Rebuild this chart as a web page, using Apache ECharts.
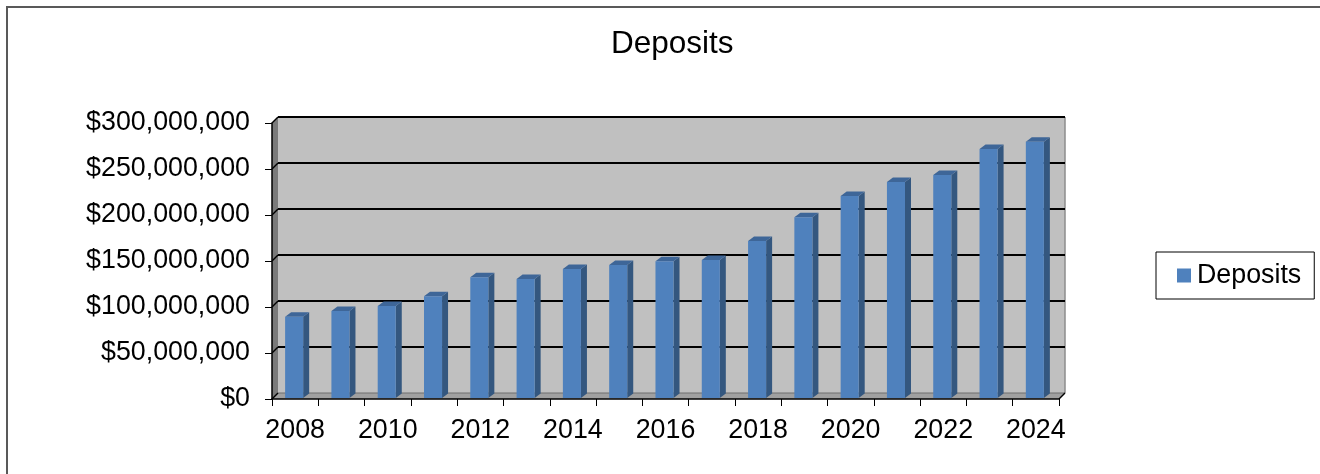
<!DOCTYPE html>
<html>
<head>
<meta charset="utf-8">
<script src="https://cdn.jsdelivr.net/npm/echarts@6/dist/echarts.min.js"></script>
<style>
html,body{margin:0;padding:0;background:#fff;}
#chart{width:1320px;height:474px;}
</style>
</head>
<body>
<div id="chart"></div>
<script>
var years = ['2008','2009','2010','2011','2012','2013','2014','2015','2016','2017','2018','2019','2020','2021','2022','2023','2024'];
var deposits = [89500000, 95700000, 101000000, 111600000, 132300000, 130400000, 141300000, 145600000, 149700000, 151000000, 171700000, 197500000, 220700000, 236000000, 243500000, 271700000, 279700000];
var yTicks = [0, 50000000, 100000000, 150000000, 200000000, 250000000, 300000000];
var seriesName = 'Deposits';
var titleText = 'Deposits';

var DX = 6, DY = 6;
var FONT = '"Liberation Sans", Arial, sans-serif';

function money(v) {
  return '$' + String(v).replace(/\B(?=(\d{3})+(?!\d))/g, ',');
}

function renderWalls(params, api) {
  var cs = params.coordSys;
  var x0 = cs.x, x1 = cs.x + cs.width;
  var yTop = api.coord([0, yTicks[yTicks.length - 1]])[1];
  var yBot = api.coord([0, 0])[1];
  var children = [];
  children.push({type:'polygon', shape:{points:[[x0+DX,yTop-DY],[x1+DX,yTop-DY],[x1+DX,yBot-DY],[x0+DX,yBot-DY]]},
    style:{fill:'#C0C0C0', stroke:null}});
  children.push({type:'line', shape:{x1:x1+DX,y1:yTop-DY,x2:x1+DX,y2:yBot-DY}, style:{stroke:'#8C8C8C', lineWidth:1.5}});
  children.push({type:'polygon', shape:{points:[[x0,yTop],[x0+DX,yTop-DY],[x0+DX,yBot-DY],[x0,yBot]]},
    style:{fill:'#7A7A7A', stroke:null}});
  children.push({type:'polygon', shape:{points:[[x0,yBot],[x1,yBot],[x1+DX,yBot-DY],[x0+DX,yBot-DY]]},
    style:{fill:'#A0A0A0', stroke:null}});
  for (var i = 0; i < yTicks.length; i++) {
    var y = api.coord([0, yTicks[i]])[1];
    if (i > 0) {
      children.push({type:'line', shape:{x1:x0+DX,y1:y-DY,x2:x1+DX,y2:y-DY}, style:{stroke:'#000', lineWidth:2}});
    } else {
      children.push({type:'line', shape:{x1:x0+DX,y1:y-DY,x2:x1+DX,y2:y-DY}, style:{stroke:'#6E6E6E', lineWidth:1}});
    }
    children.push({type:'line', shape:{x1:x0,y1:y,x2:x0+DX,y2:y-DY}, style:{stroke:'#000', lineWidth:1.5}});
  }
  children.push({type:'line', shape:{x1:x1,y1:yBot,x2:x1+DX,y2:yBot-DY}, style:{stroke:'#000', lineWidth:1.5}});
  return {type:'group', children:children};
}

function renderBar(params, api) {
  var i = api.value(0), v = api.value(1);
  var top = api.coord([i, v]);
  var base = api.coord([i, 0]);
  var band = api.size([1, 0])[0];
  var w = band * 0.39;
  var L = top[0] - w / 2 - 1;
  var R = L + w;
  var yT = top[1], yB = base[1] - 1;
  var dx = DX, dy = 4.5;
  return {type:'group', children:[
    {type:'polygon', shape:{points:[[R,yT],[R+dx,yT-dy],[R+dx,yB-dy],[R,yB]]}, style:{fill:'#34577F', stroke:null}},
    {type:'polygon', shape:{points:[[L,yT],[R,yT],[R+dx,yT-dy],[L+dx,yT-dy]]}, style:{fill:'#3E6698', stroke:null}},
    {type:'rect', shape:{x:L, y:yT, width:w, height:yB-yT}, style:{fill:'#4F81BD', stroke:null}}
  ]};
}

var chart = echarts.init(document.getElementById('chart'), null, {renderer:'canvas'});
chart.setOption({
  animation: false,
  color: ['#4F81BD'],
  backgroundColor: '#fff',
  graphic: [{
    type:'polyline', z:100, silent: true,
    shape:{points:[[7,500],[7,7],[1340,7]]},
    style:{fill:null, stroke:'#595959', lineWidth:2}
  }],
  title: {
    text: titleText, left: 611, top: 28, padding: 0,
    textStyle: {fontFamily: FONT, fontSize: 31.5, fontWeight: 'normal', color: '#000'}
  },
  legend: {
    data: [seriesName], left: 1156, top: 252, orient: 'vertical',
    padding: [10, 13, 10, 21], borderColor: '#000', borderWidth: 1,
    itemWidth: 14, itemHeight: 14, icon: 'rect', itemGap: 0,
    textStyle: {fontFamily: FONT, fontSize: 26.8, color: '#000', padding: [0,0,0,1]}
  },
  grid: {left: 272, right: 261, top: 123, bottom: 75, containLabel: false},
  xAxis: {
    type: 'category', data: years, boundaryGap: true,
    axisLine: {show: true, lineStyle: {color: '#000', width: 1.5}},
    axisTick: {show: true, interval: 0, length: 7, alignWithLabel: false, lineStyle: {color: '#000', width: 1}},
    axisLabel: {interval: 1, margin: 18, fontFamily: FONT, fontSize: 26.8, color: '#000'},
    splitLine: {show: false}, z: 10
  },
  yAxis: {
    type: 'value', min: 0, max: 300000000, interval: 50000000,
    axisLine: {show: true, lineStyle: {color: '#000', width: 1.5}},
    axisTick: {show: true, length: 7, lineStyle: {color: '#000', width: 1}},
    axisLabel: {margin: 22, fontFamily: FONT, fontSize: 26.8, color: '#000', formatter: money},
    splitLine: {show: false}, z: 10
  },
  series: [
    {type:'custom', name:'walls', renderItem: renderWalls, data: [[0, 0]], clip: false, silent: true, z: 1},
    {type:'custom', name: seriesName, renderItem: renderBar, clip: false, z: 2,
     itemStyle: {color: '#4F81BD'},
     data: deposits.map(function (v, i) { return [i, v]; })}
  ]
});
</script>
</body>
</html>
